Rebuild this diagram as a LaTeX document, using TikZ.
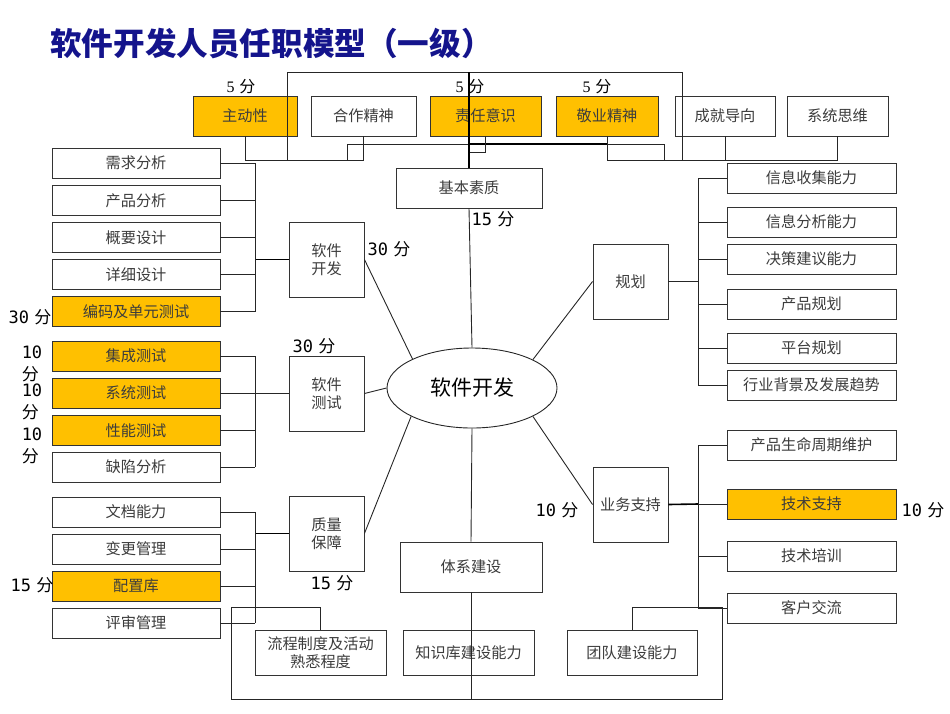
\documentclass[tikz,border=0pt]{standalone}
\usepackage{fontspec}
\usetikzlibrary{shapes.geometric}
\newfontfamily\cjk{Noto Sans CJK SC}
\newfontfamily\mono{DejaVu Sans Mono}
\newfontfamily\seriff{Liberation Serif}
\definecolor{gold}{RGB}{255,192,0}
\definecolor{navy}{RGB}{20,20,140}
\definecolor{txt}{RGB}{60,60,60}
\tikzset{
  bx/.style={draw=black!80, line width=0.9pt, fill=white, inner sep=0pt, text=txt,
    font=\cjk\fontsize{15.2}{18}\selectfont, align=center},
  hl/.style={fill=gold},
  lw/.style={minimum width=168pt, minimum height=30pt},
  rw/.style={minimum width=169pt, minimum height=30pt},
  tw/.style={minimum height=40pt},
  sq/.style={minimum width=75pt, minimum height=75pt},
  ln/.style={draw=black!85, line width=0.9pt},
  tk/.style={draw=black, line width=1.6pt},
  sc/.style={font=\fontsize{17}{21}\selectfont, inner sep=0pt, align=left},
}
\newcommand{\fen}[1]{{\mono #1} {\cjk 分}}
\begin{document}
\begin{tikzpicture}[x=1pt,y=-1pt]
\useasboundingbox (0,0) rectangle (950,713);
% title
\node[anchor=west, inner sep=0pt, text=navy, font=\cjk\bfseries\fontsize{31.6}{33}\selectfont] (title) at (50,44) {软件开发人员任职模型（一级）};

% top frame lines (drawn under boxes)
\coordinate (fL) at (287,72);
\coordinate (fR) at (682,72);
\draw[ln] (347,160) -- (347,144) -- (664,144) -- (664,160);
\draw[tk] (469,144) -- (607,144);

% top boxes
\node[bx,hl,tw,minimum width=104pt] (a1) at (245,116) {主动性};
\node[bx,tw,minimum width=105pt] (a2) at (363.5,116) {合作精神};
\node[bx,hl,tw,minimum width=111pt] (a3) at (485.5,116) {责任意识};
\node[bx,hl,tw,minimum width=102pt] (a4) at (607,116) {敬业精神};
\node[bx,tw,minimum width=100pt] (a5) at (725,116) {成就导向};
\node[bx,tw,minimum width=101pt] (a6) at (837.5,116) {系统思维};
\draw[ln] (287,160) -- (fL) -- (fR) -- (682,160);

\draw[ln] (a1.south) -- (a1.south |- 0,160) -- (a2.south |- 0,160) -- (a2.south);
\draw[ln] (a3.south) -- (a3.south |- 0,152) -- (469,152);
\draw[ln] (a4.south) -- (a4.south |- 0,160) -- (a6.south |- 0,160) -- (a6.south);
\draw[ln] (a5.south) -- (a5.south |- 0,160);

% centre
\node[draw=black!85, line width=0.9pt, ellipse, minimum width=170pt, minimum height=80pt, inner sep=0pt,
  font=\cjk\fontsize{21}{23}\selectfont] (el) at (472,388) {软件开发};

\node[bx,minimum width=146pt,minimum height=40pt] (jbsz) at (469,188) {基本素质};
\draw[tk] (469,72) -- (jbsz.north);
\node[bx,sq] (swkf) at (326.5,259.5) {软件\\开发};
\node[bx,sq] (swcs) at (326.5,393.5) {软件\\测试};
\node[bx,sq] (zlbz) at (326.5,533.5) {质量\\保障};
\node[bx,minimum width=142pt,minimum height=50pt] (txjs) at (471,567) {体系建设};
\node[bx,sq] (gh) at (630.5,281.5) {规划};
\node[bx,sq] (ywzc) at (630.5,504.5) {业务支持};

\draw[ln] (jbsz.south) -- (el.north);
\draw[ln] (swkf.east) -- (el.154);
\draw[ln] (swcs.east) -- (el.west);
\draw[ln] (zlbz.east) -- (el.205);
\draw[ln] (gh.west) -- (el.25);
\draw[ln] (ywzc.west) -- (el.335);
\draw[ln] (txjs.north) -- (el.south);

% left column
\node[bx,lw] (n1) at (136,163) {需求分析};
\node[bx,lw] (n2) at (136,200.5) {产品分析};
\node[bx,lw] (n3) at (136,237.5) {概要设计};
\node[bx,lw] (n4) at (136,274.5) {详细设计};
\node[bx,lw,hl] (n5) at (136,311.5) {编码及单元测试};
\node[bx,lw,hl] (t1) at (136,356) {集成测试};
\node[bx,lw,hl] (t2) at (136,393) {系统测试};
\node[bx,lw,hl] (t3) at (136,430.5) {性能测试};
\node[bx,lw] (t4) at (136,467) {缺陷分析};
\node[bx,lw] (q1) at (136,512) {文档能力};
\node[bx,lw] (q2) at (136,549) {变更管理};
\node[bx,lw,hl] (q3) at (136,586) {配置库};
\node[bx,lw] (q4) at (136,623) {评审管理};

\coordinate (bk1) at (255,259.5);
\coordinate (bk2) at (255,393.5);
\coordinate (bk3) at (255,533.5);
\draw[tk] (swkf.west) -- (bk1);
\draw[ln] (swcs.west) -- (bk2);
\draw[tk] (zlbz.west) -- (bk3);
\foreach \n in {n1,n2,n3,n4,n5} \draw[ln] (\n.east) -- (\n.east -| bk1);
\draw[ln] (n1.east -| bk1) -- (n5.east -| bk1);
\foreach \n in {t1,t2,t3,t4} \draw[ln] (\n.east) -- (\n.east -| bk2);
\draw[ln] (t1.east -| bk2) -- (t4.east -| bk2);
\foreach \n in {q1,q2,q3,q4} \draw[ln] (\n.east) -- (\n.east -| bk3);
\draw[ln] (q1.east -| bk3) -- (q4.east -| bk3);

% right column
\node[bx,rw] (r1) at (811.5,178) {信息收集能力};
\node[bx,rw] (r2) at (811.5,222) {信息分析能力};
\node[bx,rw] (r3) at (811.5,259) {决策建议能力};
\node[bx,rw] (r4) at (811.5,304) {产品规划};
\node[bx,rw] (r5) at (811.5,348) {平台规划};
\node[bx,rw] (r6) at (811.5,385) {行业背景及发展趋势};
\node[bx,rw] (s1) at (811.5,445) {产品生命周期维护};
\node[bx,rw,hl] (s2) at (811.5,504) {技术支持};
\node[bx,rw] (s3) at (811.5,556) {技术培训};
\node[bx,rw] (s4) at (811.5,608) {客户交流};

\coordinate (bk4) at (698,281.5);
\coordinate (bk5) at (698,504);
\draw[ln] (gh.east) -- (bk4);
\draw[tk] (ywzc.east) -- (bk5);
\foreach \n in {r1,r2,r3,r4,r5,r6} \draw[ln] (\n.west) -- (\n.west -| bk4);
\draw[ln] (r1.west -| bk4) -- (r6.west -| bk4);
\foreach \n in {s1,s2,s3,s4} \draw[ln] (\n.west) -- (\n.west -| bk5);
\draw[ln] (s1.west -| bk5) -- (s4.west -| bk5);

% bottom
\node[bx,minimum width=131pt,minimum height=45pt,font=\cjk\fontsize{15.2}{18}\selectfont] (b1) at (320.5,652.5) {流程制度及活动\\熟悉程度};
\node[bx,minimum width=131pt,minimum height=45pt] (b2) at (468.5,652.5) {知识库建设能力};
\node[bx,minimum width=130pt,minimum height=45pt] (b3) at (632,652.5) {团队建设能力};
\coordinate (c1) at (231,607);
\coordinate (c2) at (231,699);
\coordinate (c3) at (722,699);
\coordinate (c4) at (722,607);
\draw[ln] (b1.north) -- (b1.north |- c1) -- (c1) -- (c2) -- (c3) -- (c4) -- (b3.north |- c4) -- (b3.north);
\draw[ln] (txjs.south) -- (txjs.south |- c2);

% scores
\node[inner sep=0pt, font=\fontsize{16}{18}\selectfont] (p1) at (241,87) {{\seriff 5} {\cjk 分}};
\node[inner sep=0pt, font=\fontsize{16}{18}\selectfont] (p2) at (470,87) {{\seriff 5} {\cjk 分}};
\node[inner sep=0pt, font=\fontsize{16}{18}\selectfont] (p3) at (597,87) {{\seriff 5} {\cjk 分}};
\node[sc] (s15a) at (493,219) {\fen{15}};
\node[sc] (s30a) at (389,249) {\fen{30}};
\node[sc] (s30b) at (314,346) {\fen{30}};
\node[sc] (s30c) at (30,317) {\fen{30}};
\node[sc, font=\fontsize{17}{22}\selectfont] (s10a) at (32,364) {{\mono 10}\\{\cjk 分}};
\node[sc, font=\fontsize{17}{22}\selectfont] (s10b) at (32,402) {{\mono 10}\\{\cjk 分}};
\node[sc, font=\fontsize{17}{22}\selectfont] (s10c) at (32,446) {{\mono 10}\\{\cjk 分}};
\node[sc] (s15b) at (32,585) {\fen{15}};
\node[sc] (s15c) at (332,583) {\fen{15}};
\node[sc] (s10d) at (557,510) {\fen{10}};
\node[sc] (s10e) at (923,510) {\fen{10}};
\end{tikzpicture}
\end{document}
